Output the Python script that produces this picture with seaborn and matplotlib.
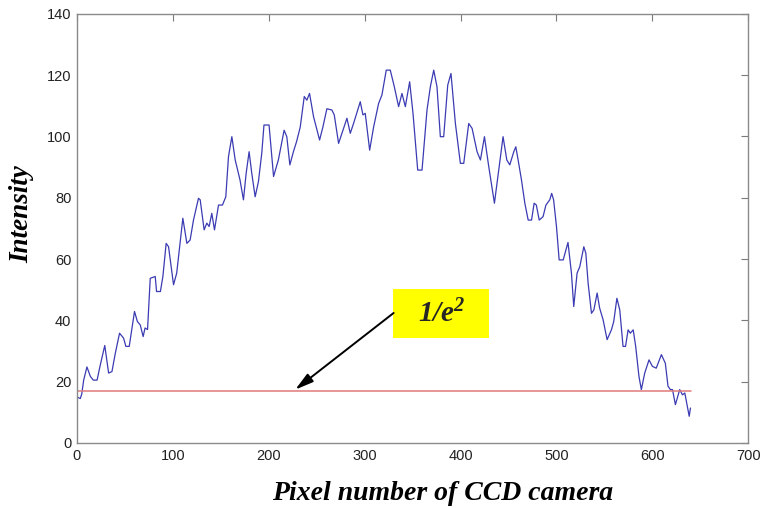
import matplotlib
matplotlib.use("Agg")
import matplotlib.pyplot as plt
import seaborn as sns
import pandas as pd
from matplotlib.patches import Rectangle

# ---- data ----
pixel = [0, 3.5, 5, 7, 10.4, 14, 17, 21, 24, 26, 29, 33, 36.5, 40, 44.4, 48.6, 51, 54.5, 60, 63,
         66, 69, 71, 73.6, 76.4, 81.6, 83, 87, 89.6, 93, 95.5, 100.7, 104, 110.4, 114.6, 118, 121.5,
         126.7, 128.5, 132.6, 135.4, 137.8, 140.6, 143.4, 147.6, 151.7, 155.2, 158, 161.5, 165, 170,
         173.6, 176.4, 179.5, 182.3, 185.8, 189.2, 192.7, 195, 200.3, 205, 210, 216, 218.8, 222,
         225.7, 229, 232.8, 237, 239.7, 242.5, 246.7, 253, 256.4, 260.6, 265.8, 268.3, 272.8, 276.3,
         281.5, 285, 288.4, 295.4, 298.2, 300.6, 305.2, 309.3, 314.5, 318, 322.5, 326.7, 330.9, 335.4,
         338.9, 342.4, 346.9, 350.4, 355.3, 359.8, 365, 368.5, 372, 375.4, 378.9, 382.4, 386.6, 390,
         394.6, 399.8, 403.3, 408.5, 412, 417.2, 420.7, 424.9, 429.4, 435.3, 439.8, 444.3, 448.2,
         451.3, 455.5, 457.6, 460, 463.5, 467, 470.5, 474, 476.7, 479, 482, 486, 489, 493, 495, 497,
         500, 502.8, 507, 512, 515.6, 518, 521.5, 524.3, 528.5, 530.6, 533, 536.5, 539, 542.4, 545,
         548.6, 552.8, 557.3, 559.7, 563, 566, 569.4, 572, 574.7, 577, 580, 582.6, 586, 588.5, 592,
         596.5, 600, 604, 609.4, 613.5, 616.3, 618.8, 621, 624, 628.5, 631.4, 633.8, 638.4, 639.7]
intensity = [15, 14.5, 16, 20.5, 24.8, 21.7, 20.5, 20.5, 25, 27.7, 31.8, 22.8, 23.3, 29.3, 35.8, 34.2,
             31.5, 31.5, 42.9, 39.6, 38.5, 34.7, 37.5, 37, 53.7, 54.3, 49.4, 49.4, 54.3, 65.1, 64, 51.6,
             55.4, 73.3, 65.1, 66.2, 72.7, 79.8, 79.3, 69.5, 71.7, 70.6, 74.9, 69.5, 77.6, 77.6, 80.3,
             93.4, 99.9, 92.3, 85.8, 79.3, 87.9, 95, 87.9, 80.3, 85.2, 94.5, 103.7, 103.7, 86.9, 92.3,
             102, 99.9, 90.7, 95, 98.3, 103, 113, 111.8, 114, 106.4, 98.8, 103, 109, 108.6, 107, 97.7,
             101, 105.9, 101, 104.2, 111.3, 107, 107.5, 95.5, 103, 110.7, 113.5, 121.6, 121.6, 116.2,
             109.7, 114, 109.7, 117.8, 107.5, 89, 89, 108.6, 116.2, 121.6, 116.2, 99.9, 99.9, 116.7,
             120.5, 104.2, 91.2, 91.2, 104.2, 102.6, 95, 92.3, 99.9, 90.1, 78.2, 89, 99.9, 92.3, 90.7,
             95, 96.6, 92.3, 85.8, 78.2, 72.7, 72.7, 78.2, 77.6, 72.7, 73.8, 77.6, 79.3, 81.4, 79.3,
             70.6, 59.7, 59.7, 65.4, 55.4, 44.5, 55.4, 57.5, 64, 61.9, 52.1, 42.3, 43.4, 48.9, 44, 40.2,
             33.7, 36.9, 39.6, 47.2, 43.4, 31.5, 31.5, 36.9, 35.8, 36.9, 31.5, 21.7, 17.4, 22.8, 27.1,
             25, 24.4, 28.8, 26, 18.5, 17.4, 17.4, 12.5, 17.4, 15.7, 16.3, 8.7, 11.4]
threshold_x = [0, 640]
threshold_y = [16.8, 16.8]
x_ticks = [0, 100, 200, 300, 400, 500, 600, 700]
y_ticks = [0, 20, 40, 60, 80, 100, 120, 140]

# ---- styling ----
sns.set_style("white")
plt.rcParams["font.family"] = ["Liberation Sans", "DejaVu Sans"]
plt.rcParams["mathtext.fontset"] = "custom"
plt.rcParams["mathtext.bf"] = "Liberation Serif:italic:bold"
plt.rcParams["mathtext.rm"] = "Liberation Serif:italic:bold"

fig = plt.figure(figsize=(7.62, 5.08), dpi=100)
ax = fig.add_axes([0.101, 0.128, 0.881, 0.845])

df = pd.DataFrame({"pixel": pixel, "intensity": intensity})
sns.lineplot(data=df, x="pixel", y="intensity", ax=ax, color="#3b3bb3", linewidth=0.9)
sns.lineplot(x=threshold_x, y=threshold_y, ax=ax, color="#e07a7a", linewidth=1.1)

ax.set_xlim(0, 700)
ax.set_ylim(0, 140)
ax.set_xticks(x_ticks)
ax.set_yticks(y_ticks)
ax.tick_params(direction="in", length=5, width=0.8, colors="#7a7a7a",
               labelcolor="#222222", labelsize=10.5, top=True, right=True,
               labeltop=False, labelright=False, pad=4)
for s in ax.spines.values():
    s.set_color("#8a8a8a")
    s.set_linewidth(1.0)

serif = ["Liberation Serif", "DejaVu Serif"]
ax.set_xlabel("Pixel number of CCD camera", fontsize=20, fontweight="bold",
              fontstyle="italic", family=serif, color="black")
ax.xaxis.set_label_coords(0.544, -0.088)
ax.set_ylabel("Intensity", fontsize=19.5, fontweight="bold",
              fontstyle="italic", family=serif, color="black")
ax.yaxis.set_label_coords(-0.064, 0.534)

# annotation: yellow box + arrow
box_x0, box_y0, box_w, box_h = 330, 34.3, 100, 15.9
ax.add_patch(Rectangle((box_x0, box_y0), box_w, box_h, facecolor="#ffff00",
                       edgecolor="none", zorder=3))
ax.text(box_x0 + box_w / 2, box_y0 + box_h / 2 - 0.3, r"$\mathbf{1/e^{2}}$", fontsize=21,
        ha="center", va="center", zorder=4)
ax.annotate("", xy=(227.6, 17.4), xytext=(330.2, 42.4),
            arrowprops=dict(arrowstyle="-|>,head_length=1.1,head_width=0.3",
                            color="black", lw=1.4, shrinkA=0, shrinkB=0),
            zorder=4)

fig.savefig("out.png", dpi=100)
